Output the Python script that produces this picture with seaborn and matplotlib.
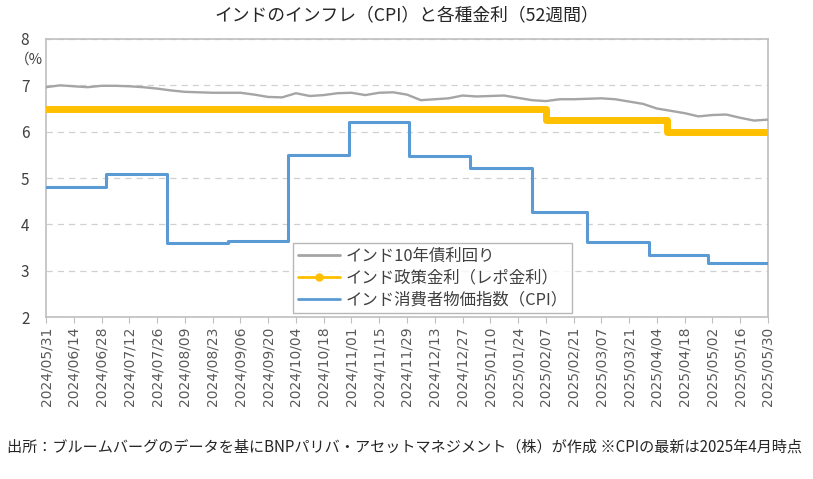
import matplotlib
matplotlib.use("Agg")
import matplotlib.pyplot as plt
import matplotlib.dates as mdates
from matplotlib.lines import Line2D
import numpy as np
import pandas as pd
import seaborn as sns

# India 10y government bond yield, weekly (Fridays)
YIELD_START = "2024-05-31"
yield_10y = [6.96, 7.00, 6.98, 6.96, 6.99, 6.99, 6.98, 6.96, 6.93, 6.89,
             6.86, 6.85, 6.84, 6.84, 6.84, 6.80, 6.75, 6.74, 6.83, 6.77,
             6.79, 6.83, 6.84, 6.79, 6.84, 6.85, 6.80, 6.68, 6.70, 6.72,
             6.78, 6.76, 6.77, 6.78, 6.73, 6.68, 6.66, 6.70, 6.70, 6.71,
             6.72, 6.70, 6.65, 6.60, 6.50, 6.45, 6.40, 6.33, 6.36, 6.37,
             6.30, 6.24, 6.26]

# RBI repo rate (change dates)
repo_dates = ["2024-05-31", "2025-02-07", "2025-04-09", "2025-05-30"]
repo_rate = [6.50, 6.25, 6.00, 6.00]

# CPI y/y, plotted from month end
cpi_dates = ["2024-05-31", "2024-06-30", "2024-07-31", "2024-08-31", "2024-09-30",
             "2024-10-31", "2024-11-30", "2024-12-31", "2025-01-31", "2025-02-28",
             "2025-03-31", "2025-04-30", "2025-05-30"]
cpi = [4.80, 5.08, 3.60, 3.65, 5.49, 6.21, 5.48, 5.22, 4.26, 3.61, 3.34, 3.16, 3.16]

labels = ["インド10年債利回り", "インド政策金利（レポ金利）", "インド消費者物価指数（CPI）"]
colors = ["#a5a5a5", "#ffc000", "#5b9bd5"]

sns.set_theme(style="white")
plt.rcParams["font.family"] = ["Noto Sans CJK JP", "DejaVu Sans"]

df_y = pd.DataFrame({"date": pd.date_range(YIELD_START, periods=len(yield_10y), freq="7D"),
                     "value": yield_10y})
df_r = pd.DataFrame({"date": pd.to_datetime(repo_dates), "value": repo_rate})
df_c = pd.DataFrame({"date": pd.to_datetime(cpi_dates), "value": cpi})

fig = plt.figure(figsize=(8.13, 4.79), dpi=100)
ax = fig.add_axes([0.0566, 0.338, 0.888, 0.5806])

sns.lineplot(data=df_c, x="date", y="value", ax=ax, color=colors[2], linewidth=2.2,
             drawstyle="steps-post", zorder=3)
sns.lineplot(data=df_r, x="date", y="value", ax=ax, color=colors[1], linewidth=5,
             drawstyle="steps-post", zorder=4, solid_capstyle="round", solid_joinstyle="round")
sns.lineplot(data=df_y, x="date", y="value", ax=ax, color=colors[0], linewidth=1.7, zorder=5)

ax.set_xlim(pd.Timestamp("2024-05-31"), pd.Timestamp("2025-05-30"))
ax.set_ylim(2, 8)
ax.set_yticks(range(2, 9))
ax.set_xticks(pd.date_range("2024-05-31", "2025-05-30", freq="14D"))
ax.xaxis.set_major_formatter(mdates.DateFormatter("%Y/%m/%d"))
ax.tick_params(axis="x", rotation=90, labelsize=10, colors="#595959", length=4,
               direction="out", bottom=True, width=0.8, pad=3)
ax.tick_params(axis="x", color="#bfbfbf")
ax.tick_params(axis="y", labelsize=11, labelcolor="#404040", length=0, pad=12)
for lab in ax.get_xticklabels():
    lab.set_family("DejaVu Sans")
ax.set_xlabel("")
ax.set_ylabel("")
ax.grid(axis="y", linestyle=(0, (5, 4)), color="#d0d0d0", linewidth=0.9)
ax.grid(axis="x", visible=False)
for s in ax.spines.values():
    s.set_visible(True)
    s.set_color("#bfbfbf")
    s.set_linewidth(1.2)

handles = [Line2D([], [], color=colors[0], lw=2),
           Line2D([], [], color=colors[1], lw=2, marker="o", markersize=5),
           Line2D([], [], color=colors[2], lw=2)]
leg = ax.legend(handles, labels, loc="lower left", bbox_to_anchor=(0.342, 0.014),
                fontsize=11.8, frameon=True, fancybox=False, handlelength=2.6,
                handletextpad=0.3, labelspacing=0.3, borderpad=0.3, borderaxespad=0)
leg.get_frame().set_edgecolor("#a6a6a6")
leg.get_frame().set_linewidth(1)
for t in leg.get_texts():
    t.set_color("#404040")

fig.text(0.5, 0.969, "インドのインフレ（CPI）と各種金利（52週間）", ha="center", va="center",
         fontsize=12.8, color="#262626")
fig.text(0.018, 0.875, "（%", ha="left", va="center", fontsize=10.5, color="#404040")
fig.text(0.008, 0.066, "出所：ブルームバーグのデータを基にBNPパリバ・アセットマネジメント（株）が作成 ※CPIの最新は2025年4月時点",
         ha="left", va="center", fontsize=10.9, color="#262626")

fig.savefig("out.png", dpi=100)
